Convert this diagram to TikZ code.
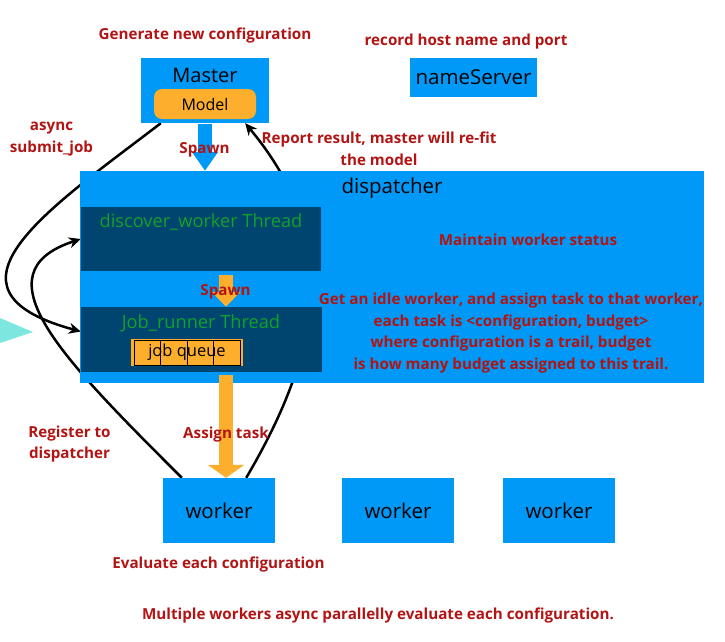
\documentclass[tikz,border=0pt]{standalone}
\usepackage{fontspec}
\setmainfont{Open Sans}
\usetikzlibrary{arrows.meta,backgrounds}

\definecolor{procblue}{RGB}{0,153,247}
\definecolor{threadblue}{RGB}{0,68,112}
\definecolor{queueorange}{RGB}{252,174,44}
\definecolor{notered}{RGB}{178,20,20}
\definecolor{threadgreen}{RGB}{18,162,40}
\definecolor{tipcyan}{RGB}{125,230,222}

\tikzset{
  procbox/.style={fill=procblue, inner sep=0pt, font=\fontsize{20.5}{24}\selectfont},
  threadbox/.style={fill=threadblue, inner sep=0pt},
  threadtitle/.style={text=threadgreen, font=\fontsize{18.2}{22}\selectfont},
  note/.style={text=notered, align=center, yshift=-2pt, font=\fontsize{15.2}{21.5}\selectfont\bfseries},
  flow/.style={line width=2.5pt, -{Stealth[length=12pt,width=11pt]}},
  fatarrow/.style 2 args={line width=14pt, -{Triangle[width=#1,length=#2]}}
}

\begin{document}
\begin{tikzpicture}[x=1pt,y=-1pt]
\useasboundingbox (0,0) rectangle (725,642);

% master and name server
\node[note] (gentext) at (205,34) {Generate new configuration};
\node[procbox, minimum width=128pt, minimum height=65pt] (master) at (205,90.5) {};
\node[font=\fontsize{20}{24}\selectfont] (mastertitle) at (205,75) {Master};
\node[fill=queueorange, rounded corners=8pt, minimum width=102pt, minimum height=30pt, font=\fontsize{16}{18}\selectfont] (model) at (205,104) {Model};
\node[note] (hosttext) at (466,40) {record host name and port};
\node[procbox, minimum width=127pt, minimum height=39pt] (nameserver) at (473.5,77.5) {nameServer};

% dispatcher with its two threads
\node[procbox, minimum width=624pt, minimum height=212pt] (dispatcher) at (392,277) {};
\node[font=\fontsize{20.5}{24}\selectfont] (dispatchertitle) at (392,188) {dispatcher};
\node[threadbox, minimum width=240pt, minimum height=64pt] (discover) at (201,239) {};
\node[threadtitle] (discovertitle) at (201,222) {discover\_worker Thread};
\node[threadbox, minimum width=241pt, minimum height=65pt] (jobrunner) at (201.5,339.5) {};
\node[threadtitle] (jobrunnertitle) at (201,323) {Job\_runner Thread};
\node[fill=queueorange, minimum width=112pt, minimum height=27pt, inner sep=0pt] (jobqueue) at (187,352.5) {};
\foreach \i in {0,...,3}
  \draw[line width=0.8pt] (134+26.5*\i,340) rectangle ++(26.5,25);
\node[font=\fontsize{16.5}{18}\selectfont] (jobqueuetext) at (jobqueue) {job queue};

% workers
\foreach \x/\n in {219/1,398/2,559/3}
  \node[procbox, minimum width=112pt, minimum height=65pt] (worker\n) at (\x,510.5) {worker};

% fat arrows
\coordinate (spine) at (226,0);
\draw[procblue, fatarrow={25pt}{19pt}, shorten <=1pt] (master.south) -- (master.south |- dispatcher.north);
\draw[queueorange, fatarrow={28pt}{15pt}, shorten <=4pt] (spine |- discover.south) -- (spine |- jobrunner.north);
\draw[queueorange, fatarrow={36pt}{13pt}, shorten <=3pt] (spine |- jobrunner.south) -- (spine |- worker1.north);

% curved connectors, behind the boxes
\begin{pgfonlayer}{background}
\fill[tipcyan] (0,318) -- (33,332) -- (0,343) -- cycle;
\draw[flow] ([xshift=20pt]master.south west) .. controls +(-111,85) and +(-155,-42) .. ([yshift=8pt]jobrunner.west);
\draw[flow] ([xshift=19pt]worker1.north west) .. controls +(-120,-120) and +(-104,34) .. (discover.west);
\draw[flow] ([xshift=-29pt]worker1.north east) .. controls +(76,-129) and +(96,115) .. ([xshift=-24pt]master.south east);
\end{pgfonlayer}

% notes
\node[note] (submittext) at (51.5,137) {async\\submit\_job};
\node[note] (spawntext) at (204.5,148) {Spawn};
\node[note] (reporttext) at (379,147) {Report result, master will re-fit\\the model};
\node[note] (statustext) at (528,238) {Maintain worker status};
\node[note] (tasktext) at (511,331) {Get an idle worker, and assign task to that worker,\\each task is <configuration, budget>\\where configuration is a trail, budget\\is how many budget assigned to this trail.};
\node[note] (threadspawntext) at (225.5,290) {Spawn};
\node[note] (registertext) at (69.5,442) {Register to\\dispatcher};
\node[note] (assigntext) at (226,433) {Assign task};
\node[note] (evaltext) at (218.5,563) {Evaluate each configuration};
\node[note] (paralleltext) at (378,614) {Multiple workers async parallelly evaluate each configuration.};
\end{tikzpicture}
\end{document}
